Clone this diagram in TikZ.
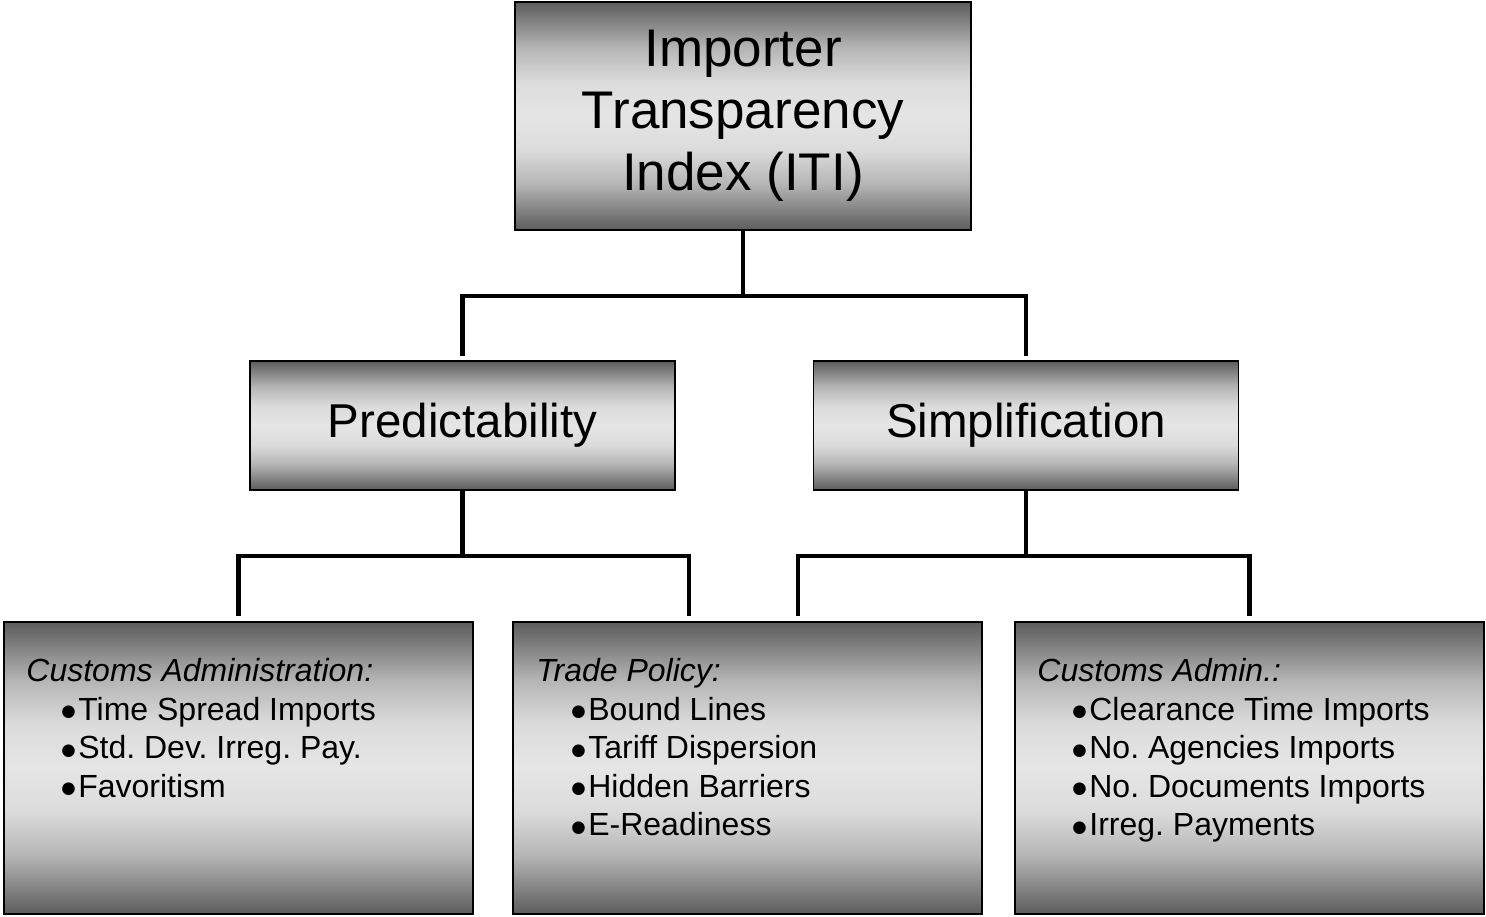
\documentclass[tikz,border=0pt]{standalone}
\usepackage{fontspec}
\setmainfont{Liberation Sans}
\newfontfamily\dotfont{DejaVu Sans}
\frenchspacing

\pgfdeclareverticalshading{boxshade}{100bp}{%
  color(0bp)=(black!64); color(25bp)=(black!64); color(35bp)=(black!29);
  color(42.5bp)=(black!14); color(50bp)=(black!10); color(57.5bp)=(black!14);
  color(65bp)=(black!29); color(75bp)=(black!64); color(100bp)=(black!64)}

% bullet before each item
\newcommand\itemdot{\hspace*{35pt}\raisebox{3.5pt}{\dotfont\fontsize{16.5}{16}\selectfont●}\hspace{2.5pt}}

\begin{document}
\begin{tikzpicture}[x=1pt,y=-1pt,
  box/.style={draw=black,line width=1.5pt,shade,shading=boxshade,inner sep=0pt},
  leaf/.style={box,minimum width=469pt,minimum height=292pt},
  mid/.style={box,minimum width=425pt,minimum height=129pt,
    font=\fontsize{47.5}{55}\selectfont},
  items/.style={anchor=north west,inner sep=0pt,align=left,
    font=\fontsize{32}{38.5}\selectfont},
  link/.style={line width=4.5pt}]

\useasboundingbox (0,0) rectangle (1486,916);

\node[box,minimum width=456pt,minimum height=228pt,align=center,
  font=\fontsize{53}{62}\selectfont] (iti) at (743,116)
  {Importer\\Transparency\\Index (ITI)};

\node[mid] (pred) at (462.5,425.5) {Predictability};
\node[mid] (simp) at (1026,425.5)  {Simplification};

\node[leaf] (adm)   at (238.5,768)  {};
\node[leaf] (trade) at (747.5,768)  {};
\node[leaf] (admin) at (1249.5,768) {};

\node[items] (admtxt) at ([xshift=23pt,yshift=-37pt]adm.north west)
  {\textit{Customs Administration:}\\
   \itemdot Time Spread Imports\\
   \itemdot Std. Dev. Irreg. Pay.\\
   \itemdot Favoritism};
\node[items] (tradetxt) at ([xshift=24pt,yshift=-37pt]trade.north west)
  {\textit{Trade Policy:}\\
   \itemdot Bound Lines\\
   \itemdot Tariff Dispersion\\
   \itemdot Hidden Barriers\\
   \itemdot E-Readiness};
\node[items] (admintxt) at ([xshift=23pt,yshift=-37pt]admin.north west)
  {\textit{Customs Admin.:}\\
   \itemdot Clearance Time Imports\\
   \itemdot No. Agencies Imports\\
   \itemdot No. Documents Imports\\
   \itemdot Irreg. Payments};

% tree links
\draw[link] (iti.south) -- ++(0,65) coordinate (j1);
\draw[link,shorten >=4pt] (j1) -| (pred.north);
\draw[link,shorten >=4pt] (j1) -| (simp.north);

\draw[link] (pred.south) -- ++(0,65) coordinate (j2);
\draw[link,shorten >=5pt] (j2) -| (adm.north);
\draw[link,shorten >=5pt] (j2) -| ([xshift=-58.5pt]trade.north);

\draw[link] (simp.south) -- ++(0,65) coordinate (j3);
\draw[link,shorten >=5pt] (j3) -| ([xshift=50.5pt]trade.north);
\draw[link,shorten >=5pt] (j3) -| (admin.north);

\end{tikzpicture}
\end{document}
